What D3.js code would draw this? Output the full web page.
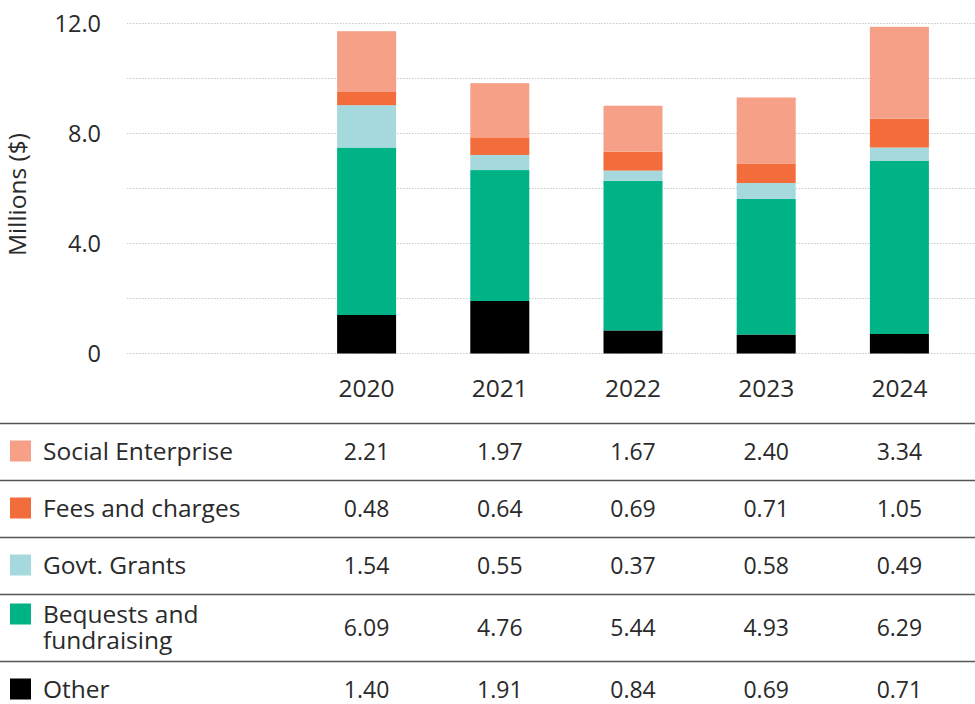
<!DOCTYPE html>
<html>
<head>
<meta charset="utf-8">
<script src="https://cdn.jsdelivr.net/npm/d3@7"></script>
<style>
  html, body { margin: 0; padding: 0; background: #fff; }
  svg { display: block; font-family: "Open Sans", Lato, sans-serif; font-weight: 400; }
</style>
</head>
<body>
<svg id="chart" width="975" height="704"></svg>
<script>
const years = ["2020", "2021", "2022", "2023", "2024"];
const seriesNames = ["Social Enterprise", "Fees and charges", "Govt. Grants", "Bequests and fundraising", "Other"];
const seriesLabelLines = [["Social Enterprise"], ["Fees and charges"], ["Govt. Grants"], ["Bequests and", "fundraising"], ["Other"]];
const socialEnterprise = [2.21, 1.97, 1.67, 2.40, 3.34];
const feesAndCharges = [0.48, 0.64, 0.69, 0.71, 1.05];
const govtGrants = [1.54, 0.55, 0.37, 0.58, 0.49];
const bequestsFundraising = [6.09, 4.76, 5.44, 4.93, 6.29];
const other = [1.40, 1.91, 0.84, 0.69, 0.71];
const yTicks = [0, 4, 8, 12];
const yGridTicks = [0, 2, 4, 6, 8, 10, 12];
const colors = ["#F6A088", "#F36C3C", "#A6D9DD", "#00B386", "#000000"];

const seriesValues = [socialEnterprise, feesAndCharges, govtGrants, bequestsFundraising, other];
// stacking order bottom->top
const stackKeys = ["Other", "Bequests and fundraising", "Govt. Grants", "Fees and charges", "Social Enterprise"];
const rows = years.map((y, i) => {
  const r = { year: y };
  seriesNames.forEach((s, k) => r[s] = seriesValues[k][i]);
  return r;
});
const stacked = d3.stack().keys(stackKeys)(rows);

const svg = d3.select("#chart");
const x = d3.scaleBand().domain(years).range([300, 966]).paddingInner(0.557).paddingOuter(0.2785);
const y = d3.scaleLinear().domain([0, 12]).range([353.5, 23.5]);
const textColor = "#2a2a2a";
const numFs = 23;
const labelFs = 24.5;

// grid
svg.append("g").selectAll("line").data(yGridTicks).join("line")
  .attr("x1", 127).attr("x2", 975)
  .attr("y1", d => y(d)).attr("y2", d => y(d))
  .attr("stroke", "#c8c8c8").attr("stroke-width", 1)
  .attr("stroke-dasharray", "1.5,1.5");

// y axis labels
const yAxis = d3.axisLeft(y).tickValues(yTicks).tickSize(0).tickPadding(0)
  .tickFormat(d => d === 0 ? "0" : d3.format(".1f")(d));
const yg = svg.append("g").attr("transform", "translate(101,0)").call(yAxis)
  .attr("font-family", null).attr("font-size", null);
yg.select(".domain").remove();
yg.selectAll("text").attr("font-size", 23.5).attr("fill", textColor);

svg.append("text")
  .attr("transform", `translate(26,${y(6) + 6}) rotate(-90)`)
  .attr("text-anchor", "middle")
  .attr("font-size", labelFs).attr("fill", textColor)
  .text("Millions ($)");

// bars
const colorOf = name => colors[seriesNames.indexOf(name)];
svg.append("g").selectAll("g").data(stacked).join("g")
  .attr("fill", d => colorOf(d.key))
  .selectAll("rect").data(d => d).join("rect")
  .attr("x", d => x(d.data.year))
  .attr("width", x.bandwidth())
  .attr("y", d => y(d[1]))
  .attr("height", d => y(d[0]) - y(d[1]));

// x axis labels
const xAxis = d3.axisBottom(x).tickSize(0).tickPadding(0);
const xg = svg.append("g").attr("transform", "translate(0,397)").call(xAxis)
  .attr("font-family", null).attr("font-size", null);
xg.select(".domain").remove();
xg.selectAll("text").attr("font-size", 24.5).attr("fill", textColor).attr("dy", 0);

// table
const rowHeights = [57, 57, 57, 67, 57];
let tops = [];
let acc = 423;
rowHeights.forEach(h => { tops.push(acc); acc += h; });

svg.append("g").selectAll("line").data(tops).join("line")
  .attr("x1", 0).attr("x2", 975)
  .attr("y1", d => d + 0.5).attr("y2", d => d + 0.5)
  .attr("stroke", "#555").attr("stroke-width", 1.3);

const rowG = svg.append("g").selectAll("g").data(seriesNames).join("g")
  .attr("transform", (d, i) => `translate(0,${tops[i] + rowHeights[i] / 2})`);

rowG.append("rect")
  .attr("x", 10).attr("width", 21).attr("height", 21)
  .attr("y", (d, i) => seriesLabelLines[i].length > 1 ? -24 : -11)
  .attr("fill", (d, i) => colors[i]);

rowG.each(function(d, i) {
  const g = d3.select(this);
  const lines = seriesLabelLines[i];
  const n = lines.length;
  const t = g.append("text")
    .attr("font-size", labelFs).attr("fill", textColor);
  lines.forEach((ln, j) => {
    t.append("tspan")
      .attr("x", 43)
      .attr("y", (j - (n - 1) / 2) * 26)
      .attr("dy", "0.35em")
      .text(ln);
  });
  g.selectAll("text.val").data(seriesValues[i]).join("text")
    .attr("class", "val")
    .attr("x", (v, k) => x(years[k]) + x.bandwidth() / 2)
    .attr("y", 0).attr("dy", "0.35em")
    .attr("text-anchor", "middle")
    .attr("font-size", numFs).attr("fill", textColor)
    .text(v => d3.format(".2f")(v));
});
</script>
</body>
</html>
